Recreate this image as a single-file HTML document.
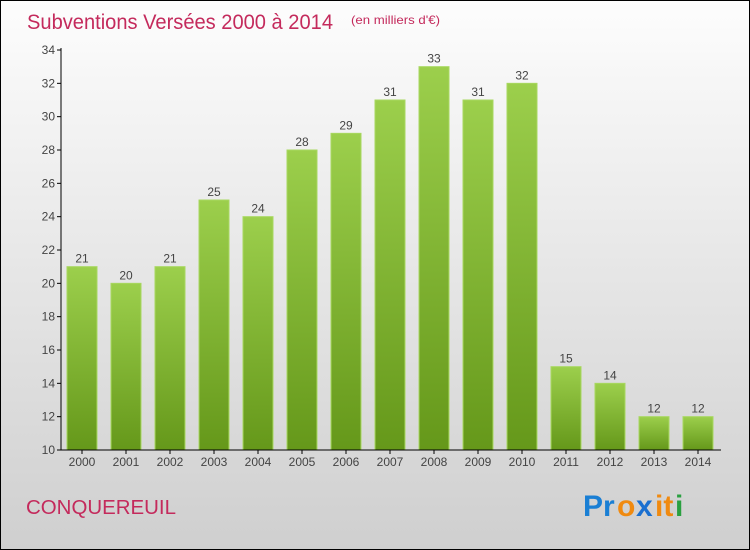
<!DOCTYPE html>
<html><head><meta charset="utf-8"><style>
body{margin:0}
#c{width:750px;height:550px;position:relative;overflow:hidden}
svg text{font-family:"Liberation Sans",sans-serif}
</style></head><body>
<div id="c">
<svg id="s" width="750" height="550" xmlns="http://www.w3.org/2000/svg">
<defs>
<linearGradient id="bg" x1="0" y1="0" x2="0" y2="1"><stop offset="0" stop-color="#fdfdfd"/><stop offset="1" stop-color="#cfcfcf"/></linearGradient>
<linearGradient id="bar" x1="0" y1="0" x2="0" y2="1"><stop offset="0" stop-color="#9ccf4c"/><stop offset="1" stop-color="#65981a"/></linearGradient>
</defs>
<rect x="0.5" y="0.5" width="749" height="549" fill="url(#bg)" stroke="#000"/>
<text x="27" y="29" font-size="21" fill="#c42a5c" textLength="306" lengthAdjust="spacingAndGlyphs">Subventions Versées 2000 à 2014</text>
<text x="351" y="24" font-size="12" fill="#c42a5c" textLength="89" lengthAdjust="spacingAndGlyphs">(en milliers d'€)</text>
<text x="26" y="514" font-size="20" fill="#c42a5c" textLength="150" lengthAdjust="spacingAndGlyphs">CONQUEREUIL</text>
<g font-size="30" font-weight="bold" font-family="Liberation Sans">
<text x="583" y="516" fill="#1a7fd4">Pr</text><text x="617" y="516" fill="#f08a10">o</text><text x="636" y="516" fill="#1a6fd0">x</text><text x="655" y="516" fill="#f08a10">it</text><text x="675" y="516" fill="#2aa040">i</text>
</g>
<g id="plot"></g>
</svg>
</div>
<script>
const categories=["2000","2001","2002","2003","2004","2005","2006","2007","2008","2009","2010","2011","2012","2013","2014"];
const values=[21,20,21,25,24,28,29,31,33,31,32,15,14,12,12];
const yTicks=[10,12,14,16,18,20,22,24,26,28,30,32,34];
const ns="http://www.w3.org/2000/svg";
const g=document.getElementById("plot");
const y=v=>450-(v-10)*400/24;
const x=i=>67+i*44;
function el(t,a){const e=document.createElementNS(ns,t);for(const k in a)e.setAttribute(k,a[k]);g.appendChild(e);return e;}
yTicks.forEach(t=>{
 const l=el("line",{x1:57,x2:61,y1:y(t),y2:y(t),stroke:"#000"});
 
 
 const tx=el("text",{x:55,y:y(t)+4,"font-size":12,fill:"#444","text-anchor":"end"});
 tx.textContent=t;
 
 
});
values.forEach((v,i)=>{
 const r=el("rect",{x:x(i),y:y(v),width:30,height:450-y(v),fill:"url(#bar)",stroke:"#a8d860","stroke-width":1});
 
 
 const vt=el("text",{x:x(i)+15,y:y(v)-4,"font-size":12,fill:"#444","text-anchor":"middle"});
 vt.textContent=v;
 
 
 const ct=el("text",{x:x(i)+15,y:466,"font-size":12,fill:"#444","text-anchor":"middle"});
 ct.textContent=categories[i];
 
 
 const tk=el("line",{x1:x(i)+15,x2:x(i)+15,y1:450,y2:454,stroke:"#000"});
 
 
});
const ya=el("line",{x1:61,x2:61,y1:48,y2:450,stroke:"#000"});


const xa=el("line",{x1:61,x2:721,y1:450,y2:450,stroke:"#000"});


</script>
</body></html>
